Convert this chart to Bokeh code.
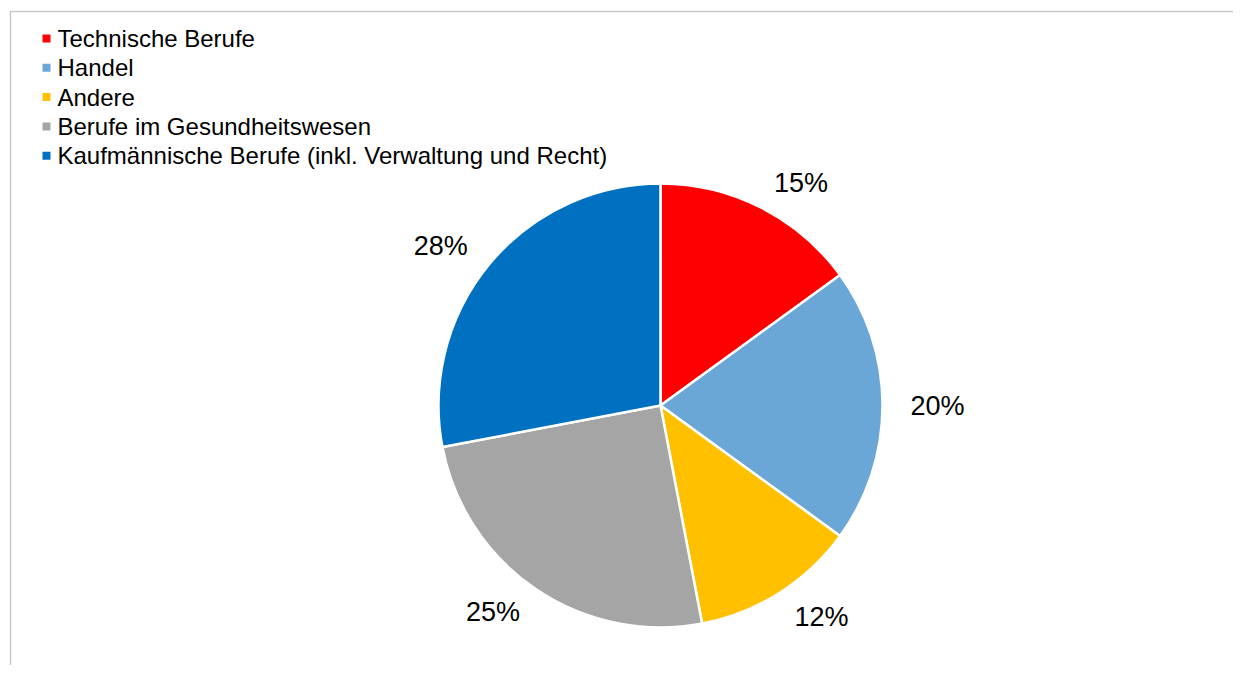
import math
from bokeh.plotting import figure
from bokeh.models import Range1d, ColumnDataSource
from bokeh.core.properties import value
from bokeh.embed import file_html
from bokeh.resources import INLINE

categories = ["Technische Berufe", "Handel", "Andere", "Berufe im Gesundheitswesen",
              "Kaufmännische Berufe (inkl. Verwaltung und Recht)"]
shares = [15, 20, 12, 25, 28]
colors = ["#FF0000", "#6AA7D6", "#FFC000", "#A5A5A5", "#0070C0"]
labels = [f"{v}%" for v in shares]

W, H = 1233, 665
FONT = "Liberation Sans"

p = figure(width=W, height=H, x_range=Range1d(0, W), y_range=Range1d(0, H),
           output_backend="svg", toolbar_location=None, min_border=0)
p.axis.visible = False
p.grid.visible = False
p.outline_line_color = None
p.background_fill_color = "white"
p.border_fill_color = "white"

def Y(py):
    return H - py

def X(px):
    return px

# chart border (decoration)
p.line([X(10), X(10), X(1240), X(1240)], [Y(700), Y(11), Y(11), Y(700)],
       line_color="#C8C8C8", line_width=1.5)

cx, cy, R = X(660), Y(405), 222
total = sum(shares)
starts, ends, mids = [], [], []
cum = 0
for v in shares:
    a0 = math.pi / 2 - 2 * math.pi * cum / total
    cum += v
    a1 = math.pi / 2 - 2 * math.pi * cum / total
    starts.append(a0)
    ends.append(a1)
    mids.append((a0 + a1) / 2)

src = ColumnDataSource(dict(start=starts, end=ends, color=colors))
p.wedge(x=cx, y=cy, radius=R, start_angle="start", end_angle="end", direction="clock",
        fill_color="color", line_color="white", line_width=2.5, source=src)

# data labels
LR = 250
for lab, m in zip(labels, mids):
    dx, dy = math.cos(m), math.sin(m)
    align = "left" if dx > 0.02 else ("right" if dx < -0.02 else "center")
    p.text(x=[cx + LR * dx], y=[cy + LR * dy], text=[lab], text_align=align,
           text_baseline="middle", text_font=value(FONT), text_font_size="27px",
           text_color="black")

# legend
row0, step = 38, 29.3
ly = [Y(row0 + i * step) for i in range(len(categories))]
p.scatter(x=[X(46)] * len(categories), y=ly, marker="square", size=8,
          fill_color=colors, line_color=None)
p.text(x=[X(57)] * len(categories), y=ly, text=categories, text_align="left",
       text_baseline="middle", text_font=value(FONT), text_font_size="24px",
       text_color="black")

open("out.html", "w").write(file_html(p, INLINE))
